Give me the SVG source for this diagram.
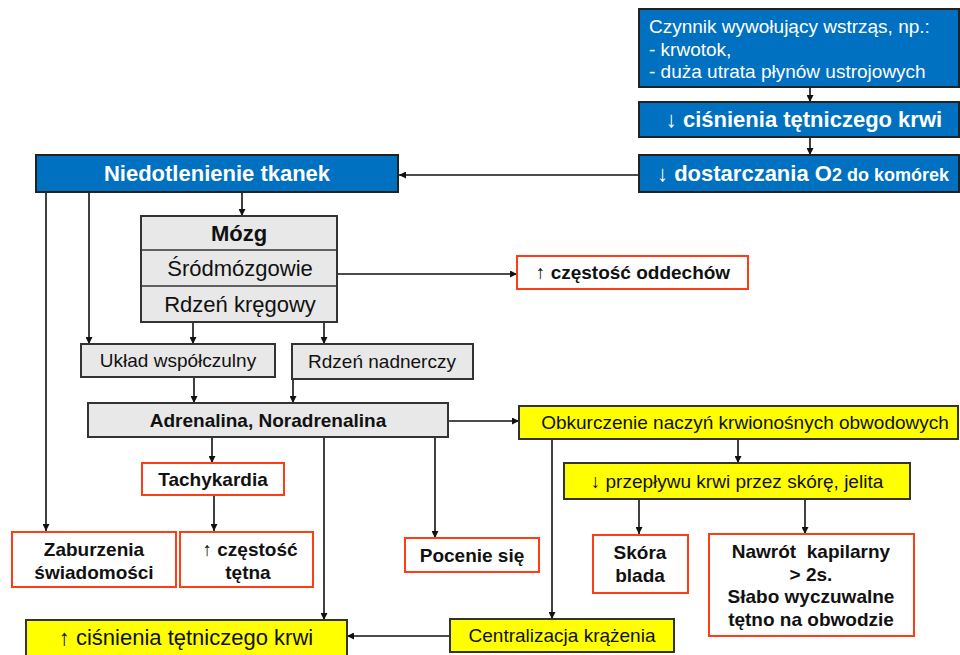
<svg xmlns="http://www.w3.org/2000/svg" width="960" height="655" viewBox="0 0 960 655">
  <defs>
    <marker id="arr" viewBox="0 0 10 10" refX="10" refY="5" markerWidth="7" markerHeight="7" markerUnits="userSpaceOnUse" orient="auto">
      <path d="M0,0 L10,5 L0,10 z" fill="#111"/>
    </marker>
    <style>
      text { font-family: "Liberation Sans", Arial, sans-serif; fill: #111; text-anchor: middle; font-size: 19px; }
      .blue { fill: #0070C0; stroke: #222; stroke-width: 2; }
      .gray { fill: #E8E8E8; stroke: #333; stroke-width: 2; }
      .yel { fill: #FFFF00; stroke: #333; stroke-width: 2; }
      .red { fill: #FFFFFF; stroke: #FF3C14; stroke-width: 2; }
      .w { fill: #FFFFFF; }
      .b { font-weight: bold; }
      .lg { font-size: 22px; }
      .conn line { stroke: #111; stroke-width: 1.6; fill: none; }
      .conn .a { marker-end: url(#arr); }
    </style>
  </defs>
  <rect width="960" height="655" fill="#FFFFFF"/>

  <!-- connectors -->
  <g id="connectors" class="conn">
    <line class="a" x1="810" y1="87" x2="810" y2="102"/>
    <line class="a" x1="810" y1="137" x2="810" y2="155"/>
    <line class="a" x1="639" y1="175" x2="399" y2="175"/>
    <line class="a" x1="242" y1="192" x2="242" y2="216"/>
    <line class="a" x1="46" y1="192" x2="46" y2="531"/>
    <line class="a" x1="89" y1="192" x2="89" y2="344"/>
    <line class="a" x1="193" y1="322" x2="193" y2="344"/>
    <line class="a" x1="324" y1="322" x2="324" y2="344"/>
    <line class="a" x1="337" y1="274" x2="517" y2="274"/>
    <line class="a" x1="194" y1="377" x2="194" y2="403"/>
    <line class="a" x1="293" y1="379" x2="293" y2="403"/>
    <line class="a" x1="212" y1="437" x2="212" y2="463"/>
    <line class="a" x1="324" y1="437" x2="324" y2="620"/>
    <line class="a" x1="435" y1="437" x2="435" y2="538"/>
    <line class="a" x1="448" y1="421" x2="519" y2="421"/>
    <line class="a" x1="214" y1="495" x2="214" y2="531"/>
    <line class="a" x1="738" y1="439" x2="738" y2="463"/>
    <line class="a" x1="552" y1="439" x2="552" y2="619"/>
    <line class="a" x1="639" y1="499" x2="639" y2="534"/>
    <line class="a" x1="805" y1="499" x2="805" y2="534"/>
    <line class="a" x1="450" y1="636" x2="347" y2="636"/>
  </g>

  <!-- blue chain -->
  <g id="czynnik">
    <rect class="blue" x="639" y="9" width="320" height="78"/>
    <text class="w" x="649" y="33" style="text-anchor:start">Czynnik wywołujący wstrząs, np.:</text>
    <text class="w" x="649" y="56" style="text-anchor:start">- krwotok,</text>
    <text class="w" x="649" y="78" style="text-anchor:start">- duża utrata płynów ustrojowych</text>
  </g>
  <g id="cisnienie-spadek">
    <rect class="blue" x="639" y="102" width="320" height="35"/>
    <text class="w b lg" x="804" y="127"><tspan font-weight="normal">↓</tspan> ciśnienia tętniczego krwi</text>
  </g>
  <g id="dostarczanie">
    <rect class="blue" x="639" y="155" width="320" height="37"/>
    <text class="w b lg" x="803" y="181"><tspan font-weight="normal">↓</tspan> dostarczania O<tspan font-size="18">2 do komórek</tspan></text>
  </g>
  <g id="niedotlenienie">
    <rect class="blue" x="36" y="155" width="362" height="37"/>
    <text class="w b lg" x="217" y="181">Niedotlenienie tkanek</text>
  </g>

  <!-- nervous system -->
  <g id="mozg">
    <rect class="gray" x="141" y="216" width="196" height="106"/>
    <line x1="141" y1="250" x2="337" y2="250" stroke="#333" stroke-width="1.5"/>
    <line x1="141" y1="286" x2="337" y2="286" stroke="#333" stroke-width="1.5"/>
    <text class="b lg" x="239" y="241">Mózg</text>
    <text class="lg" x="240" y="276">Śródmózgowie</text>
    <text class="lg" x="240" y="312">Rdzeń kręgowy</text>
  </g>
  <g id="oddechy">
    <rect class="red" x="517" y="256" width="231" height="33"/>
    <text class="b" x="633" y="279"><tspan font-weight="normal">↑</tspan> częstość oddechów</text>
  </g>
  <g id="uklad">
    <rect class="gray" x="81" y="344" width="194" height="33"/>
    <text x="178" y="367">Układ współczulny</text>
  </g>
  <g id="nadnercza">
    <rect class="gray" x="292" y="344" width="181" height="35"/>
    <text x="382" y="368">Rdzeń nadnerczy</text>
  </g>
  <g id="adrenalina">
    <rect class="gray" x="88" y="403" width="360" height="34"/>
    <text class="b" x="268" y="427">Adrenalina, Noradrenalina</text>
  </g>

  <!-- vascular response -->
  <g id="obkurczenie">
    <rect class="yel" x="519" y="406" width="439" height="33"/>
    <text x="745" y="429">Obkurczenie naczyń krwionośnych obwodowych</text>
  </g>
  <g id="przeplyw">
    <rect class="yel" x="564" y="463" width="346" height="36"/>
    <text x="737" y="488">↓ przepływu krwi przez skórę, jelita</text>
  </g>
  <g id="skora">
    <rect class="red" x="593" y="535" width="95" height="58"/>
    <text class="b" x="640" y="559">Skóra</text>
    <text class="b" x="640" y="582">blada</text>
  </g>
  <g id="nawrot">
    <rect class="red" x="709" y="534" width="205" height="102"/>
    <text class="b" x="811" y="558" xml:space="preserve">Nawrót  kapilarny</text>
    <text class="b" x="811" y="581">&gt; 2s.</text>
    <text class="b" x="811" y="603">Słabo wyczuwalne</text>
    <text class="b" x="811" y="626">tętno na obwodzie</text>
  </g>
  <g id="centralizacja">
    <rect class="yel" x="450" y="619" width="224" height="33"/>
    <text x="562" y="642">Centralizacja krążenia</text>
  </g>

  <!-- effects -->
  <g id="tachykardia">
    <rect class="red" x="142" y="463" width="142" height="32"/>
    <text class="b" x="213" y="486">Tachykardia</text>
  </g>
  <g id="zaburzenia">
    <rect class="red" x="12" y="532" width="164" height="55"/>
    <text class="b" x="94" y="556">Zaburzenia</text>
    <text class="b" x="94" y="579">świadomości</text>
  </g>
  <g id="tetno">
    <rect class="red" x="180" y="532" width="133" height="55"/>
    <text class="b" x="250" y="556"><tspan font-weight="normal">↑</tspan> częstość</text>
    <text class="b" x="248" y="579">tętna</text>
  </g>
  <g id="pocenie">
    <rect class="red" x="405" y="538" width="134" height="34"/>
    <text class="b" x="472" y="562">Pocenie się</text>
  </g>
  <g id="cisnienie-wzrost">
    <rect class="yel" x="26" y="620" width="321" height="44"/>
    <text class="lg" x="186" y="645">↑ ciśnienia tętniczego krwi</text>
  </g>
</svg>
